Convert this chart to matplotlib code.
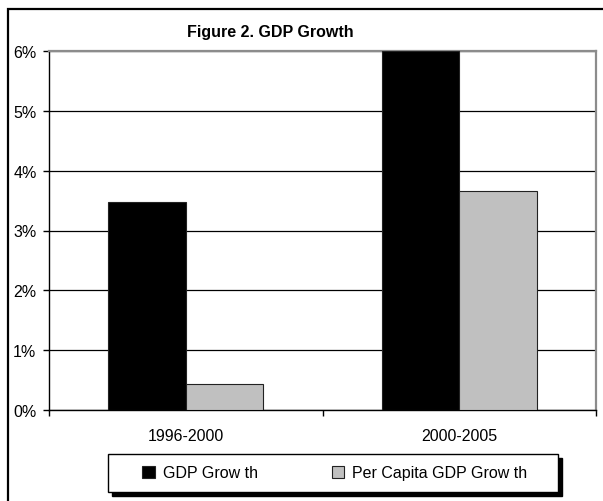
import matplotlib
matplotlib.use("Agg")
import matplotlib.pyplot as plt
from matplotlib.patches import Rectangle
from matplotlib.ticker import PercentFormatter
import numpy as np

plt.rcParams['font.family'] = ['Liberation Sans', 'DejaVu Sans']

# data
periods = ['1996-2000', '2000-2005']
gdp_growth = [3.48, 6.0]
per_capita_growth = [0.43, 3.66]
series_names = ['GDP Grow th', 'Per Capita GDP Grow th']

fig = plt.figure(figsize=(6.03, 5.02), dpi=100)

# outer chart frame (runs off the right and bottom edges)
fig.patches.append(Rectangle((8 / 603, -0.05), 1.2, 1 - 10 / 502 + 0.05,
                             transform=fig.transFigure, fill=False,
                             edgecolor='black', linewidth=1.6))

ax = fig.add_axes([49 / 603, 1 - 411 / 502, 547 / 603, 359 / 502])

x = np.arange(len(periods))
w = 0.283
b1 = ax.bar(x - w / 2, gdp_growth, w, color='black', edgecolor='#222222',
            linewidth=0.8, label=series_names[0], zorder=3)
b2 = ax.bar(x + w / 2, per_capita_growth, w, color='#c0c0c0',
            edgecolor='#222222', linewidth=0.8, label=series_names[1], zorder=3)

ax.set_xlim(-0.5, 1.5)
ax.set_ylim(0, 6)
ax.set_yticks(range(7))
ax.yaxis.set_major_formatter(PercentFormatter(decimals=0))
ax.set_xticks(x)
ax.set_xticklabels(periods)
ax.set_xticks([-0.5, 0.5, 1.5], minor=True)
ax.tick_params(axis='x', which='major', length=0, pad=13, labelsize=11.5)
ax.tick_params(axis='x', which='minor', length=4, direction='out', width=1)
ax.tick_params(axis='y', length=4, direction='out', width=1, pad=5, labelsize=11.5)

ax.grid(axis='y', color='black', linewidth=0.9, zorder=0)
ax.spines['left'].set_color('black')
ax.spines['bottom'].set_color('black')
ax.spines['top'].set_color('#8c8c8c')
ax.spines['right'].set_color('#8c8c8c')
ax.spines['top'].set_linewidth(1.6)
ax.spines['right'].set_linewidth(1.6)
ax.spines['left'].set_linewidth(1.0)
ax.spines['bottom'].set_linewidth(1.0)

fig.text(270 / 603, 1 - 33 / 502, 'Figure 2. GDP Growth', ha='center',
         va='center', fontsize=11.5, fontweight='bold')

# legend box with a solid black drop shadow
lx, ly, lw, lh = 108 / 603, 1 - 493 / 502, 450 / 603, 38 / 502
fig.patches.append(Rectangle((lx + 4 / 603, ly - 4 / 502), lw, lh,
                             transform=fig.transFigure, facecolor='black',
                             edgecolor='black', zorder=4))
fig.patches.append(Rectangle((lx, ly), lw, lh, transform=fig.transFigure,
                             facecolor='white', edgecolor='black',
                             linewidth=1.0, zorder=5))
leg = fig.legend(handles=[b1, b2], labels=series_names, ncol=2,
                 loc='center', bbox_to_anchor=(lx + lw / 2 + 2 / 603, ly + lh / 2),
                 frameon=False, handlelength=0.8, handleheight=0.8,
                 handletextpad=0.5, columnspacing=4.6, fontsize=11.5)
leg.set_zorder(6)

fig.savefig('out.png', dpi=100)
